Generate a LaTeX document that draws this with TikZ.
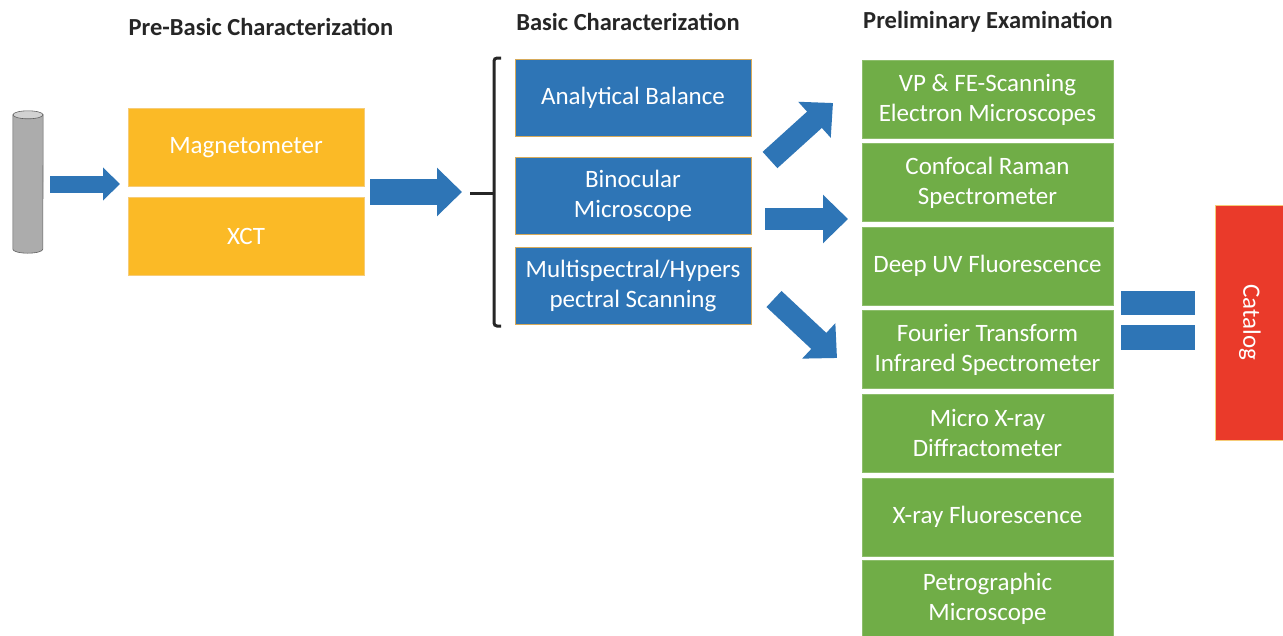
\documentclass[tikz,border=0pt]{standalone}
\usepackage{fontspec}
\setmainfont{Carlito}
\usetikzlibrary{arrows.meta}

\definecolor{preorange}{RGB}{251,186,38}
\definecolor{preline}{RGB}{246,204,120}
\definecolor{basicblue}{RGB}{46,117,182}
\definecolor{basicline}{RGB}{214,170,90}
\definecolor{examgreen}{RGB}{112,173,71}
\definecolor{catred}{RGB}{234,58,42}
\definecolor{titlegray}{RGB}{38,38,38}

\begin{document}
\begin{tikzpicture}[x=1pt,y=-1pt]
			\tikzstyle{every node}=[font=\fontsize{25}{30}\selectfont]
			\tikzstyle{prebox}=[fill=preorange, draw=preline, text=white, minimum width=236pt, minimum height=78pt, inner sep=0pt, align=center]
			\tikzstyle{basicbox}=[fill=basicblue, draw=basicline, text=white, minimum width=236pt, minimum height=77pt, inner sep=0pt, align=center]
			\tikzstyle{exambox}=[fill=examgreen, draw=examgreen!80!white, text=white, minimum width=251pt, minimum height=78pt, inner sep=0pt, align=center]
			\tikzstyle{title}=[font=\fontsize{24.5}{30}\selectfont\bfseries, text=titlegray]
			\tikzstyle{fat}=[draw=basicblue, line width=22pt, -{Triangle[length=25pt,width=47pt]}]

			\clip (0,0) rectangle (1283,635);
			\fill[white] (0,0) rectangle (1283,635);

			\node[title] (pretitle) at (261,27) {Pre-Basic Characterization};
			\node[title] (basictitle) at (628,22) {Basic Characterization};
			\node[title] (examtitle) at (988,22) {Preliminary Examination};

			% core sample
			\node (core) at (28,182) [minimum width=30pt, minimum height=134pt, inner sep=0pt] {};
			\fill [gray!65, draw=gray!75!black, line width=0.6pt] (core.north west) -- (core.south west) arc[start angle=180, end angle=360, x radius=15, y radius=-4] -- (core.north east) -- cycle;
			\filldraw [fill=gray!35, draw=gray!75!black, line width=0.6pt] (core.north) ellipse [x radius=15, y radius=4];

			\node (mag) at (246,147.5) [prebox] {Magnetometer};
			\node (xct) at (246,236) [prebox] {XCT};

			\node (bal) at (633,98) [basicbox] {Analytical Balance};
			\node (bino) at (633,195.5) [basicbox] {Binocular\\Microscope};
			\node (multi) at (633,286) [basicbox] {Multispectral/Hypers\\pectral Scanning};

			\node (sem) at (987.5,99.5) [exambox] {VP \& FE-Scanning\\Electron Microscopes};
			\node (raman) at (987.5,182.5) [exambox] {Confocal Raman\\Spectrometer};
			\node (duv) at (987.5,266) [exambox] {Deep UV Fluorescence};
			\node (ftir) at (987.5,349.5) [exambox] {Fourier Transform\\Infrared Spectrometer};
			\node (xrd) at (987.5,433) [exambox] {Micro X-ray\\Diffractometer};
			\node (xrf) at (987.5,517) [exambox] {X-ray Fluorescence};
			\node (petro) at (987.5,599) [exambox] {Petrographic\\Microscope};

			\node (eqtop) at (1158,303) [fill=basicblue, minimum width=74pt, minimum height=24pt, inner sep=0pt] {};
			\node (eqbot) at (1158,337.5) [fill=basicblue, minimum width=74pt, minimum height=25pt, inner sep=0pt] {};
			\node (catalog) at (1250,322.5) [fill=catred, draw=preline, text=white, minimum width=235pt, minimum height=70pt, inner sep=0pt, rotate=-90] {Catalog};

			% arrow ends
			\coordinate (in1) at (50,184);
			\coordinate (out1) at (120,184);
			\coordinate (in2) at (370,192);
			\coordinate (out2) at (462,192);
			\coordinate (up1) at (770,160);
			\coordinate (up2) at (833,103);
			\coordinate (mid1) at (765,219);
			\coordinate (mid2) at (848,219);
			\coordinate (dn1) at (774,299);
			\coordinate (dn2) at (837,358);

			\draw [fat, line width=17pt, -{Triangle[length=17pt,width=32pt]}] (in1) -- (out1);
			\draw [fat, line width=26pt] (in2) -- (out2);
			\draw [fat] (up1) -- (up2);
			\draw [fat] (mid1) -- (mid2);
			\draw [fat] (dn1) -- (dn2);

			% bracket
			\coordinate (brin) at (470,193);
			\coordinate (brmid) at (494,193);
			\draw [line width=3pt, titlegray] (brin) -- (brmid);
			\draw [line width=3pt, titlegray, rounded corners=3pt] (501,58) -- (494,58) -- (494,326) -- (501,326);
		\end{tikzpicture}
\end{document}
